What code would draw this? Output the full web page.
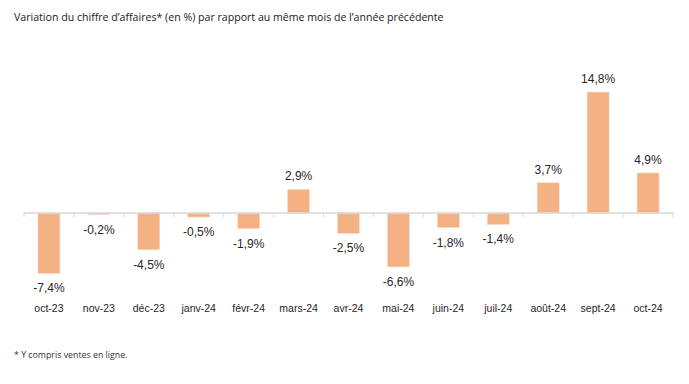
<!DOCTYPE html>
<html>
<head>
<meta charset="utf-8">
<script src="https://cdn.jsdelivr.net/npm/d3@7"></script>
<style>
    body { margin: 0; background: #fff; }
    svg { display: block; }
</style>
</head>
<body>
<div id="chart"></div>
<script>
// Chart data
const months = ['oct-23', 'nov-23', 'déc-23', 'janv-24', 'févr-24', 'mars-24', 'avr-24',
    'mai-24', 'juin-24', 'juil-24', 'août-24', 'sept-24', 'oct-24'];
const variation = [-7.4, -0.2, -4.5, -0.5, -1.9, 2.9, -2.5, -6.6, -1.8, -1.4, 3.7, 14.8, 4.9];

const width = 689;
const height = 384;

const svg = d3
    .select('#chart')
    .append('svg')
    .attr('width', width)
    .attr('height', height);

// Title and footnote
svg.append('text')
    .attr('x', 14)
    .attr('y', 21)
    .attr('font-family', 'Open Sans, sans-serif')
    .attr('font-size', 10.6)
    .attr('fill', '#1a1a1a')
    .text('Variation du chiffre d\u2019affaires* (en %) par rapport au même mois de l\u2019année précédente');

svg.append('text')
    .attr('x', 14)
    .attr('y', 358)
    .attr('font-family', 'Open Sans, sans-serif')
    .attr('font-size', 8.8)
    .attr('fill', '#333')
    .text('* Y compris ventes en ligne.');

// Scales
const xScale = d3
    .scaleBand()
    .domain(months)
    .range([24, 673])
    .paddingInner(0.56)
    .paddingOuter(0.28);
const yScale = d3
    .scaleLinear()
    .domain([-10, 15])
    .range([294.7, 90.45]);

const zeroY = yScale(0);

// Bars
svg.append('g')
    .selectAll('rect')
    .data(variation)
    .enter()
    .append('rect')
    .attr('x', (d, i) => xScale(months[i]))
    .attr('y', (d) => yScale(Math.max(0, d)))
    .attr('width', xScale.bandwidth())
    .attr('height', (d) => Math.abs(yScale(d) - zeroY))
    .attr('fill', '#F4B183')
    .attr('stroke', '#FBDCC4')
    .attr('stroke-width', 0.6);

// Axis line with category boundary ticks
const step = xScale.step();
const axis = svg.append('g');
axis.append('line')
    .attr('x1', 24).attr('x2', 673)
    .attr('y1', zeroY).attr('y2', zeroY)
    .attr('stroke', '#d9d9d9')
    .attr('stroke-width', 1.3);
axis.selectAll('line.tick')
    .data(d3.range(months.length + 1))
    .enter()
    .append('line')
    .attr('class', 'tick')
    .attr('x1', (i) => 24 + i * step)
    .attr('x2', (i) => 24 + i * step)
    .attr('y1', zeroY - 1)
    .attr('y2', zeroY + 4)
    .attr('stroke', '#d9d9d9')
    .attr('stroke-width', 1);

// Value labels
svg.append('g')
    .selectAll('text')
    .data(variation)
    .enter()
    .append('text')
    .attr('x', (d, i) => xScale(months[i]) + xScale.bandwidth() / 2)
    .attr('y', (d) => (d >= 0 ? yScale(d) - 9 : yScale(d) + 19))
    .attr('text-anchor', 'middle')
    .attr('font-family', 'Liberation Sans, Arial, sans-serif')
    .attr('font-size', 12)
    .attr('fill', '#262626')
    .text((d) => d.toFixed(1).replace('.', ',') + '%');

// Category labels
svg.append('g')
    .selectAll('text')
    .data(months)
    .enter()
    .append('text')
    .attr('x', (d) => xScale(d) + xScale.bandwidth() / 2)
    .attr('y', 312)
    .attr('text-anchor', 'middle')
    .attr('font-family', 'Liberation Sans, Arial, sans-serif')
    .attr('font-size', 10.5)
    .attr('fill', '#262626')
    .text((d) => d);
</script>
</body>
</html>
